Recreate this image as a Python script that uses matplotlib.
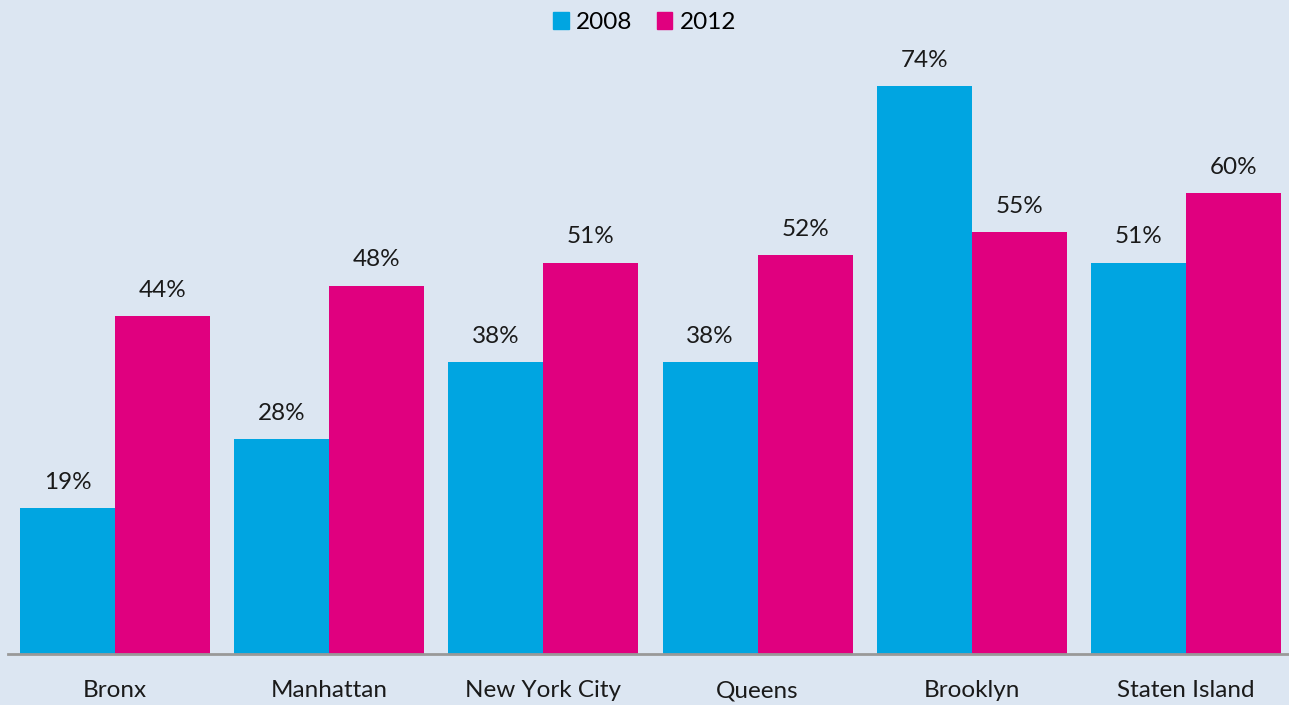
import numpy as np
import matplotlib.pyplot as plt
from matplotlib.patches import Patch

boroughs = ['Bronx', 'Manhattan', 'New York City', 'Queens', 'Brooklyn', 'Staten Island']
years = ['2008', '2012']
vals2008 = [19, 28, 38, 38, 74, 51]
vals2012 = [44, 48, 51, 52, 55, 60]

blue = '#00A5E1'
pink = '#E0007F'
bg = '#DCE6F2'

plt.rcParams['font.family'] = ['Lato', 'DejaVu Sans']

fig = plt.figure(figsize=(12.89, 7.05), dpi=100, facecolor=bg)
ax = fig.add_axes([8/1289, 51/705, 1285/1289, 614/705], facecolor=bg)

x = np.arange(len(boroughs))
w = 95/214.2
b1 = ax.bar(x - w/2, vals2008, w, color=blue, label=years[0])
b2 = ax.bar(x + w/2, vals2012, w, color=pink, label=years[1])

for bars, vals in [(b1, vals2008), (b2, vals2012)]:
    for r, v in zip(bars, vals):
        ax.annotate(f'{v}%', (r.get_x() + r.get_width()/2, v),
                    xytext=(0, 11), textcoords='offset points',
                    ha='center', va='bottom', fontsize=17.5, color='#1a1a1a')

ax.set_xlim(-0.5, 5.5)
ax.set_ylim(0, 80)
ax.set_yticks([])
ax.set_xticks(x)
ax.set_xticklabels(boroughs, fontsize=17.5, color='#1a1a1a')
ax.tick_params(axis='x', length=0, pad=19)
for s in ['top', 'right', 'left']:
    ax.spines[s].set_visible(False)
ax.spines['bottom'].set_color('#999999')
ax.spines['bottom'].set_linewidth(2)

handles = [Patch(color=blue, label=years[0]), Patch(color=pink, label=years[1])]
fig.legend(handles=handles, loc='upper center', bbox_to_anchor=(0.5, 1.014), ncol=2,
           frameon=False, fontsize=17.5, handlelength=0.65, handleheight=0.65,
           handletextpad=0.3, columnspacing=1.0)

fig.savefig('out.png', dpi=100, facecolor=bg)
